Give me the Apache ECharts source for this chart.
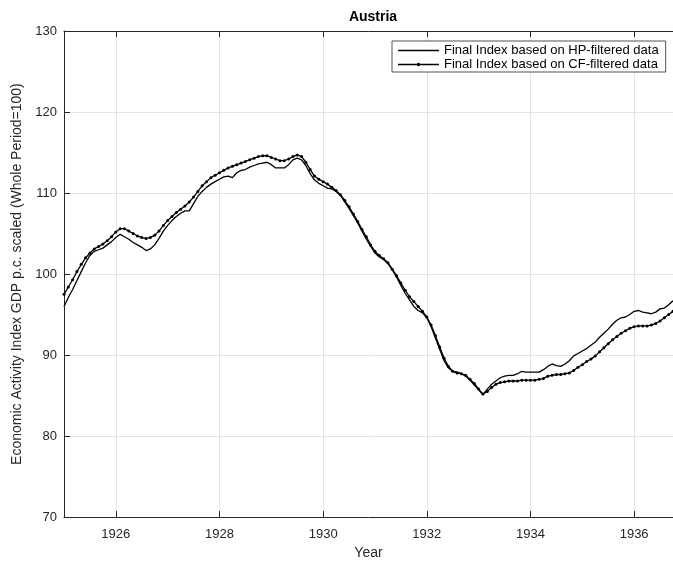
<!DOCTYPE html>
<html>
<head>
<meta charset="utf-8">
<script src="https://cdn.jsdelivr.net/npm/echarts@6/dist/echarts.min.js"></script>
<style>
html,body{margin:0;padding:0;background:#fff;}
#chart{width:673px;height:565px;}
</style>
</head>
<body>
<div id="chart"></div>
<script>
// Monthly observations, Jan 1925 .. Oct 1936
const startYear = 1925;
const monthCount = 142;
const yTicks = [70, 80, 90, 100, 110, 120, 130];
const seriesNames = ['Final Index based on HP-filtered data', 'Final Index based on CF-filtered data'];

const hpValues = [
  96.0, 97.1, 98.1, 99.2, 100.3, 101.4, 102.3, 102.8, 103.0, 103.2, 103.6, 104.0,
  104.5, 104.9, 104.6, 104.3, 103.9, 103.6, 103.3, 102.9, 103.1, 103.6, 104.4, 105.3,
  106.0, 106.6, 107.1, 107.5, 107.8, 107.8, 108.7, 109.6, 110.2, 110.7, 111.1, 111.4,
  111.7, 112.0, 112.1, 111.9, 112.5, 112.8, 112.9, 113.2, 113.4, 113.6, 113.7, 113.8,
  113.5, 113.1, 113.1, 113.1, 113.5, 114.1, 114.3, 114.1, 113.4, 112.4, 111.6, 111.2,
  110.9, 110.6, 110.5, 110.2, 109.7, 108.9, 108.1, 107.2, 106.3, 105.3, 104.3, 103.4,
  102.6, 102.1, 101.8, 101.3, 100.5, 99.6, 98.6, 97.6, 96.8, 96.0, 95.5, 95.2,
  94.6, 93.5, 92.1, 90.7, 89.3, 88.4, 88.0, 87.9, 87.7, 87.4, 86.9, 86.3,
  85.7, 85.1, 85.8, 86.4, 86.8, 87.2, 87.4, 87.5, 87.5, 87.7, 88.0, 87.9,
  87.9, 87.9, 87.9, 88.2, 88.6, 88.9, 88.7, 88.6, 88.9, 89.3, 89.9, 90.2,
  90.5, 90.8, 91.2, 91.6, 92.2, 92.7, 93.2, 93.8, 94.3, 94.6, 94.7, 95.0,
  95.4, 95.5, 95.3, 95.2, 95.1, 95.3, 95.7, 95.8, 96.2, 96.7
];

const cfValues = [
  97.5, 98.4, 99.3, 100.3, 101.2, 102.0, 102.6, 103.1, 103.4, 103.7, 104.1, 104.6,
  105.2, 105.6, 105.6, 105.3, 105.0, 104.7, 104.5, 104.4, 104.5, 104.8, 105.3, 106.0,
  106.6, 107.1, 107.6, 108.0, 108.4, 108.9, 109.5, 110.2, 110.9, 111.4, 111.9, 112.2,
  112.5, 112.8, 113.1, 113.3, 113.5, 113.7, 113.9, 114.1, 114.3, 114.5, 114.6, 114.6,
  114.4, 114.2, 114.0, 114.0, 114.2, 114.5, 114.7, 114.5, 113.8, 112.9, 112.1, 111.7,
  111.4, 111.1, 110.7, 110.3, 109.8, 109.1, 108.3, 107.4, 106.5, 105.5, 104.6, 103.6,
  102.8, 102.3, 101.9, 101.4, 100.6, 99.8, 98.9, 98.0, 97.2, 96.6, 96.0, 95.4,
  94.7, 93.7, 92.4, 91.0, 89.6, 88.6, 88.0, 87.8, 87.7, 87.5, 87.0, 86.5,
  85.8, 85.2, 85.5, 86.0, 86.4, 86.6, 86.7, 86.8, 86.8, 86.8, 86.9, 86.9,
  86.9, 86.9, 87.0, 87.1, 87.4, 87.5, 87.6, 87.6, 87.7, 87.8, 88.1, 88.5,
  88.8, 89.2, 89.5, 89.9, 90.4, 90.9, 91.4, 91.9, 92.3, 92.7, 93.0, 93.3,
  93.5, 93.6, 93.6, 93.6, 93.7, 93.9, 94.2, 94.6, 95.0, 95.4
];

const months = [];
for (let i = 0; i < monthCount; i++) {
  const y = startYear + Math.floor(i / 12);
  const m = (i % 12) + 1;
  months.push(y + '-' + (m < 10 ? '0' + m : m));
}
// labelled ticks every January of even years
const isMajor = (idx) => (idx % 24) === 12;

const FONT = '"Liberation Sans", Arial, Helvetica, sans-serif';
const AX = '#262626';
const GRID = '#e3e3e3';

// legend glyphs: plain line, and line with a dot in the middle
const iconLine = 'path://M0,0 M0,4.25 L41,4.25 L41,5.75 L0,5.75 Z M41,10';
const iconDotLine = 'path://M0,0 M0,4.25 L19,4.25 L19,5.75 L0,5.75 Z M22,4.25 L41,4.25 L41,5.75 L22,5.75 Z M18.8,5 A1.7,1.7 0 1,0 22.2,5 A1.7,1.7 0 1,0 18.8,5 Z M41,10';

const chart = echarts.init(document.getElementById('chart'), null, {renderer: 'canvas'});
chart.setOption({
  animation: false,
  backgroundColor: '#fff',
  textStyle: {fontFamily: FONT},
  title: {
    text: 'Austria',
    left: 368, top: 5, textAlign: 'center',
    textStyle: {fontFamily: FONT, fontSize: 14, fontWeight: 'bold', color: '#000'}
  },
  grid: {left: 64, right: 0, top: 31, bottom: 45, containLabel: false},
  legend: {
    data: [
      {name: seriesNames[0], icon: iconLine},
      {name: seriesNames[1], icon: iconDotLine}
    ],
    orient: 'vertical',
    left: 392, top: 41,
    padding: [3, 7, 1, 6],
    itemGap: 1,
    itemWidth: 41, itemHeight: 10,
    borderColor: AX, borderWidth: 0.8,
    backgroundColor: '#fff',
    itemStyle: {color: '#000', borderWidth: 0},
    lineStyle: {width: 0},
    textStyle: {fontFamily: FONT, fontSize: 13, lineHeight: 10, color: '#000'}
  },
  xAxis: [{
    type: 'category',
    data: months,
    boundaryGap: false,
    position: 'bottom',
    name: 'Year', nameLocation: 'middle', nameGap: 20,
    nameTextStyle: {fontFamily: FONT, fontSize: 14, color: AX},
    axisLine: {lineStyle: {color: AX, width: 1}},
    axisTick: {inside: true, length: 6, interval: (i) => isMajor(i), lineStyle: {color: AX}},
    axisLabel: {
      interval: (i) => isMajor(i), margin: 11,
      fontFamily: FONT, fontSize: 13, color: AX,
      formatter: (v) => v.slice(0, 4)
    },
    splitLine: {show: true, interval: (i) => isMajor(i), lineStyle: {color: GRID, width: 1}}
  }, {
    type: 'category',
    data: months,
    boundaryGap: false,
    position: 'top',
    axisLine: {lineStyle: {color: AX, width: 1}},
    axisTick: {inside: true, length: 6, interval: (i) => isMajor(i), lineStyle: {color: AX}},
    axisLabel: {show: false},
    splitLine: {show: false}
  }],
  yAxis: {
    type: 'value',
    min: yTicks[0], max: yTicks[yTicks.length - 1], interval: 10,
    name: 'Economic Activity Index GDP p.c. scaled (Whole Period=100)',
    nameLocation: 'middle', nameGap: 34,
    nameTextStyle: {fontFamily: FONT, fontSize: 14, color: AX},
    axisLine: {show: true, lineStyle: {color: AX, width: 1}},
    axisTick: {show: true, inside: true, length: 6, lineStyle: {color: AX}},
    axisLabel: {margin: 7, fontFamily: FONT, fontSize: 13, color: AX},
    splitLine: {show: true, lineStyle: {color: GRID, width: 1}}
  },
  series: [{
    name: seriesNames[0],
    type: 'line',
    data: hpValues,
    xAxisIndex: 0,
    symbol: 'none',
    lineStyle: {color: '#000', width: 1.3},
    itemStyle: {color: '#000'}
  }, {
    name: seriesNames[1],
    type: 'line',
    data: cfValues,
    xAxisIndex: 0,
    symbol: 'circle', symbolSize: 3, showSymbol: true, showAllSymbol: true,
    lineStyle: {color: '#000', width: 1.3},
    itemStyle: {color: '#000'}
  }]
});
</script>
</body>
</html>
